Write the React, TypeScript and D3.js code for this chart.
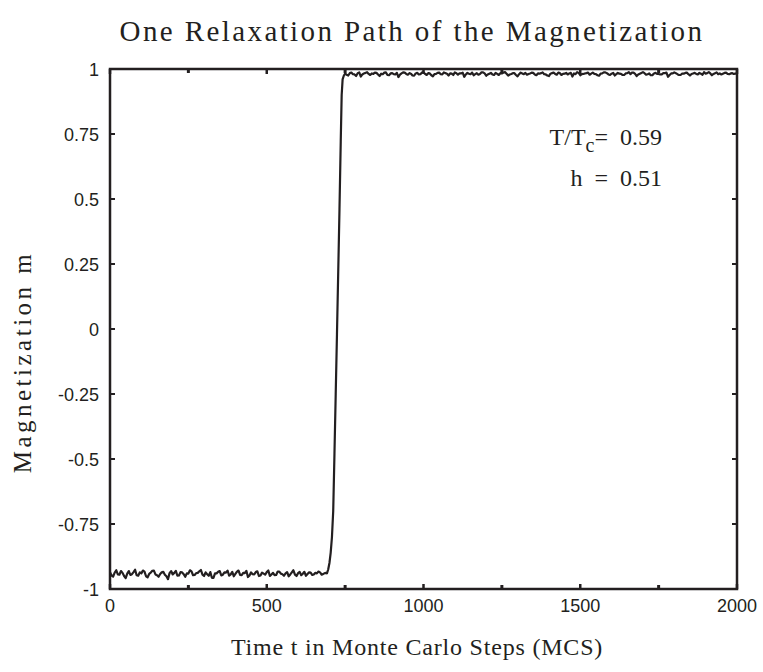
import React from "react";
import * as d3 from "d3";

const titleText = "One Relaxation Path of the Magnetization";
const xLabelText = "Time t in Monte Carlo Steps (MCS)";
const yLabelText = "Magnetization m";
const xTicks = [0, 500, 1000, 1500, 2000];
const xMinorTicks = [250, 750, 1250, 1750];
const yTicks = [-1, -0.75, -0.5, -0.25, 0, 0.25, 0.5, 0.75, 1];
const yTickLabels = ["-1", "-0.75", "-0.5", "-0.25", "0", "0.25", "0.5", "0.75", "1"];

// lower plateau: t = 0..690 every 5 MCS
const lowStart = 0;
const lowStep = 5;
const lowPhaseM = [
  -0.935,-0.948,-0.952,-0.937,-0.928,-0.944,-0.945,-0.931,-0.938,-0.950,
  -0.958,-0.941,-0.931,-0.946,-0.943,-0.935,-0.926,-0.947,-0.949,-0.936,
  -0.940,-0.929,-0.933,-0.951,-0.955,-0.942,-0.937,-0.930,-0.929,-0.944,
  -0.947,-0.953,-0.942,-0.936,-0.934,-0.945,-0.951,-0.962,-0.939,-0.931,
  -0.944,-0.938,-0.930,-0.949,-0.948,-0.935,-0.936,-0.943,-0.953,-0.940,
  -0.941,-0.928,-0.932,-0.947,-0.946,-0.939,-0.938,-0.932,-0.927,-0.945,
  -0.950,-0.936,-0.943,-0.949,-0.935,-0.957,-0.957,-0.940,-0.940,-0.934,
  -0.931,-0.948,-0.945,-0.936,-0.937,-0.929,-0.949,-0.944,-0.934,-0.951,
  -0.942,-0.933,-0.929,-0.946,-0.947,-0.938,-0.939,-0.930,-0.954,-0.948,
  -0.936,-0.943,-0.944,-0.935,-0.932,-0.950,-0.948,-0.937,-0.941,-0.945,
  -0.935,-0.929,-0.950,-0.944,-0.938,-0.947,-0.946,-0.933,-0.933,-0.941,
  -0.943,-0.949,-0.940,-0.935,-0.951,-0.944,-0.936,-0.928,-0.945,-0.950,
  -0.939,-0.934,-0.947,-0.941,-0.934,-0.949,-0.942,-0.936,-0.937,-0.946,
  -0.944,-0.938,-0.940,-0.933,-0.936,-0.945,-0.942,-0.939,-0.938,
];

// switching event
const transitionT = [692, 696, 700, 704, 708, 712, 716, 720, 724, 728, 732, 736, 739, 742, 746];
const transitionM = [-0.94, -0.925, -0.9, -0.86, -0.8, -0.7, -0.48, -0.25, -0.02, 0.22, 0.46, 0.72, 0.9, 0.96, 0.975];

// upper plateau: t = 750..2000 every 5 MCS
const highStart = 750;
const highStep = 5;
const highPhaseM = [
  0.982,0.978,0.975,0.984,0.986,0.980,0.979,0.973,0.984,0.987,
  0.971,0.979,0.983,0.985,0.988,0.981,0.977,0.983,0.981,0.986,
  0.985,0.979,0.973,0.982,0.980,0.986,0.987,0.977,0.976,0.983,
  0.984,0.980,0.979,0.985,0.969,0.978,0.983,0.987,0.986,0.981,
  0.978,0.984,0.982,0.975,0.974,0.983,0.985,0.979,0.980,0.986,
  0.988,0.981,0.977,0.984,0.983,0.976,0.972,0.980,0.981,0.985,
  0.986,0.980,0.979,0.987,0.984,0.982,0.975,0.983,0.982,0.977,
  0.987,0.984,0.978,0.983,0.983,0.986,0.970,0.979,0.985,0.982,
  0.980,0.986,0.976,0.980,0.984,0.978,0.981,0.987,0.987,0.983,
  0.974,0.979,0.982,0.985,0.979,0.977,0.985,0.981,0.977,0.984,
  0.983,0.986,0.988,0.982,0.975,0.979,0.981,0.984,0.984,0.977,
  0.972,0.980,0.986,0.983,0.980,0.985,0.978,0.981,0.983,0.986,
  0.985,0.979,0.976,0.983,0.982,0.984,0.987,0.980,0.979,0.975,
  0.973,0.982,0.984,0.986,0.981,0.978,0.986,0.984,0.977,0.981,
  0.982,0.985,0.979,0.983,0.985,0.971,0.983,0.980,0.988,0.985,
  0.976,0.980,0.981,0.983,0.984,0.986,0.978,0.982,0.986,0.981,
  0.980,0.976,0.974,0.982,0.983,0.987,0.987,0.984,0.979,0.977,
  0.982,0.985,0.975,0.980,0.985,0.982,0.981,0.977,0.977,0.983,
  0.984,0.988,0.980,0.986,0.986,0.981,0.973,0.979,0.982,0.985,
  0.988,0.984,0.978,0.980,0.983,0.976,0.976,0.983,0.985,0.981,
  0.981,0.979,0.979,0.984,0.984,0.986,0.970,0.977,0.983,0.983,
  0.987,0.984,0.980,0.977,0.977,0.982,0.982,0.985,0.986,0.980,
  0.975,0.981,0.983,0.985,0.981,0.979,0.985,0.982,0.978,0.988,
  0.982,0.984,0.988,0.983,0.976,0.981,0.984,0.987,0.980,0.983,
  0.979,0.982,0.985,0.986,0.981,0.980,0.983,0.984,0.981,0.982,
  0.983,
];

const W = 763;
const H = 672;
const M = { left: 110, right: 737, top: 69, bottom: 589 };
const ink = "#231f20";

export default function App() {
  const x = d3.scaleLinear().domain([0, 2000]).range([M.left, M.right]);
  const y = d3.scaleLinear().domain([-1, 1]).range([M.bottom, M.top]);

  const pts: [number, number][] = [];
  lowPhaseM.forEach((m, i) => pts.push([lowStart + i * lowStep, m]));
  transitionT.forEach((t, i) => pts.push([t, transitionM[i]]));
  highPhaseM.forEach((m, i) => pts.push([highStart + i * highStep, m]));

  const line = d3
    .line<[number, number]>()
    .x((d) => x(d[0]))
    .y((d) => y(d[1]));

  const tickLen = 5;
  const serif = "'Liberation Serif', 'Times New Roman', serif";
  const sans = "'Liberation Sans', Arial, sans-serif";

  return (
    <svg
      width={W}
      height={H}
      style={{ position: "absolute", left: 0, top: 0, background: "#fff" }}
    >
      <rect x={0} y={0} width={W} height={H} fill="#fff" />
      <text
        x={412}
        y={41}
        textAnchor="middle"
        fontFamily={serif}
        fontSize={29}
        letterSpacing={2.4}
        fill={ink}
      >
        {titleText}
      </text>

      {/* data */}
      <path d={line(pts) || ""} fill="none" stroke={ink} strokeWidth={2.2} strokeLinejoin="round" />

      {/* frame */}
      <rect
        x={M.left}
        y={M.top}
        width={M.right - M.left}
        height={M.bottom - M.top}
        fill="none"
        stroke={ink}
        strokeWidth={2.5}
      />

      {/* y ticks */}
      {yTicks.map((v, i) => (
        <g key={"y" + i}>
          <line x1={M.left} x2={M.left + tickLen} y1={y(v)} y2={y(v)} stroke={ink} strokeWidth={2} />
          <line x1={M.right} x2={M.right - tickLen} y1={y(v)} y2={y(v)} stroke={ink} strokeWidth={2} />
          <text
            x={M.left - 11}
            y={y(v) + 6.5}
            textAnchor="end"
            fontFamily={sans}
            fontSize={18}
            fill={ink}
          >
            {yTickLabels[i]}
          </text>
        </g>
      ))}

      {/* x ticks */}
      {xTicks.map((v) => (
        <g key={"x" + v}>
          <line x1={x(v)} x2={x(v)} y1={M.bottom} y2={M.bottom - tickLen} stroke={ink} strokeWidth={2.5} />
          <line x1={x(v)} x2={x(v)} y1={M.top} y2={M.top + tickLen} stroke={ink} strokeWidth={2.5} />
          <text x={x(v)} y={M.bottom + 23} textAnchor="middle" fontFamily={sans} fontSize={18} fill={ink}>
            {v}
          </text>
        </g>
      ))}
      {xMinorTicks.map((v) => (
        <g key={"xm" + v}>
          <line x1={x(v)} x2={x(v)} y1={M.bottom} y2={M.bottom - 4} stroke={ink} strokeWidth={3} />
          <line x1={x(v)} x2={x(v)} y1={M.top} y2={M.top + 4} stroke={ink} strokeWidth={3} />
        </g>
      ))}

      {/* annotation */}
      <text x={662} y={145} textAnchor="end" fontFamily={serif} fontSize={24} fill={ink} style={{ whiteSpace: "pre" }}>
        <tspan>T/T</tspan>
        <tspan fontSize={20} dy={7}>c</tspan>
        <tspan dy={-7}>{"=  0.59"}</tspan>
      </text>
      <text x={662} y={186} textAnchor="end" fontFamily={serif} fontSize={24} fill={ink} style={{ whiteSpace: "pre" }}>
        {"h  =  0.51"}
      </text>

      {/* axis labels */}
      <text
        x={417}
        y={655}
        textAnchor="middle"
        fontFamily={serif}
        fontSize={24}
        letterSpacing={0.8}
        fill={ink}
      >
        {xLabelText}
      </text>
      <text
        transform={`translate(31, 362) rotate(-90)`}
        textAnchor="middle"
        fontFamily={serif}
        fontSize={25}
        letterSpacing={3.5}
        fill={ink}
      >
        {yLabelText}
      </text>
    </svg>
  );
}
